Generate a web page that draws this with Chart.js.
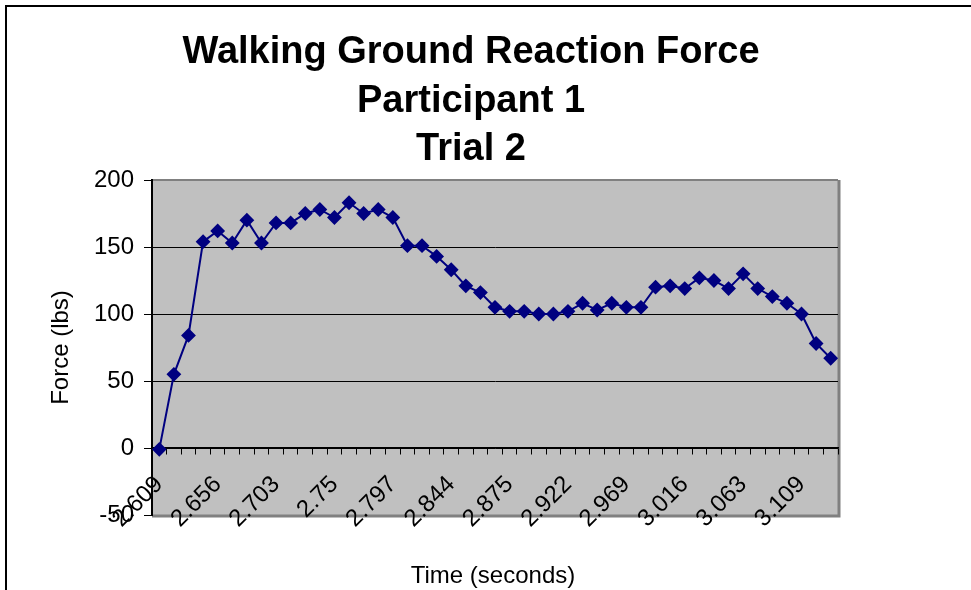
<!DOCTYPE html>
<html>
  <head>
    <title>Walking Ground Reaction Force</title>
    <meta charset="utf-8" />
    <script src="https://cdn.jsdelivr.net/npm/chart.js@4"></script>
    <style>
      html, body { margin: 0; padding: 0; background: #ffffff; }
      #wrap { width: 971px; height: 590px; }
    </style>
  </head>
  <body>
    <div id="wrap"><canvas id="grf" width="971" height="590"></canvas></div>
    <script>
      "use strict";

      const titleLines = ["Walking Ground Reaction Force", "Participant 1", "Trial 2"];
      const xTitle = "Time (seconds)";
      const yTitle = "Force (lbs)";

      // time labels shown on the axis, one every 4 samples
      const timeLabels = ["2.609", "2.656", "2.703", "2.75", "2.797", "2.844",
        "2.875", "2.922", "2.969", "3.016", "3.063", "3.109"];
      const labelEvery = 4;

      // force in lbs
      const force = [-1, 55, 84, 154, 162, 153, 170, 153, 168, 168, 175, 178,
        172, 183, 175, 178, 172, 151, 151, 143, 133, 121, 116, 105,
        102, 102, 100, 100, 102, 108, 103, 108, 105, 105, 120, 121,
        119, 127, 125, 119, 130, 119, 113, 108, 100, 78, 67];

      const yTicks = [-50, 0, 50, 100, 150, 200];

      const FONT = '"Liberation Sans", Arial, sans-serif';
      Chart.defaults.font.family = FONT;
      Chart.defaults.color = "#000";

      const categories = force.map((v, i) =>
        i % labelEvery === 0 ? timeLabels[i / labelEvery] || "" : "");

      // plot background, plot border and page frame
      const frame = {
        id: "frame",
        beforeDraw(chart) {
          const { ctx, chartArea: a } = chart;
          ctx.save();
          ctx.fillStyle = "#c0c0c0";
          ctx.fillRect(a.left, a.top, a.right - a.left, a.bottom - a.top);
          ctx.strokeStyle = "#808080";
          ctx.lineWidth = 2;
          ctx.beginPath();
          ctx.moveTo(a.left, a.top);
          ctx.lineTo(a.right, a.top);
          ctx.stroke();
          ctx.lineWidth = 3;
          ctx.beginPath();
          ctx.moveTo(a.right + 1, a.top);
          ctx.lineTo(a.right + 1, a.bottom + 1);
          ctx.lineTo(a.left, a.bottom + 1);
          ctx.stroke();
          ctx.strokeStyle = "#000";
          ctx.lineWidth = 2;
          ctx.beginPath();
          ctx.moveTo(6, 590);
          ctx.lineTo(6, 6);
          ctx.lineTo(971, 6);
          ctx.stroke();
          ctx.restore();
        },
        afterDraw(chart) {
          const { ctx } = chart;
          ctx.save();
          ctx.fillStyle = "#000";
          ctx.textAlign = "center";
          ctx.textBaseline = "middle";
          ctx.font = "bold 38px " + FONT;
          titleLines.forEach((t, i) => ctx.fillText(t, 471, 53 + i * 48.5));
          ctx.font = "24px " + FONT;
          ctx.fillText(xTitle, 493, 576);
          ctx.restore();
        }
      };

      new Chart(document.getElementById("grf"), {
        type: "line",
        data: {
          labels: categories,
          datasets: [{
            label: "Force",
            data: force,
            borderColor: "#000080",
            backgroundColor: "#000080",
            borderWidth: 2,
            tension: 0,
            pointStyle: "rectRot",
            pointRadius: 6,
            pointHoverRadius: 6
          }]
        },
        options: {
          responsive: false,
          animation: false,
          devicePixelRatio: 1,
          layout: { padding: { left: 0, right: 133, top: 180, bottom: 75 } },
          plugins: {
            legend: { display: false },
            title: { display: false },
            tooltip: { enabled: false }
          },
          scales: {
            x: {
              type: "category",
              position: { y: 0 },
              offset: true,
              grid: {
                offset: true,
                drawOnChartArea: false,
                drawTicks: true,
                tickLength: 6,
                tickColor: "#000"
              },
              border: { display: true, color: "#000", width: 1.5 },
              ticks: {
                autoSkip: false,
                minRotation: 45,
                maxRotation: 45,
                padding: 25,
                font: { size: 24, lineHeight: 0.2 }
              }
            },
            y: {
              min: -50,
              max: 200,
              afterFit(scale) { scale.width = 152; },
              afterBuildTicks(scale) { scale.ticks = yTicks.map(v => ({ value: v })); },
              grid: {
                color: c => (c.tick.value === 200 || c.tick.value === -50) ? "rgba(0,0,0,0)" : "#000",
                lineWidth: 1,
                tickColor: "#000",
                tickLength: 8
              },
              border: { display: true, color: "#000", width: 2 },
              ticks: { padding: 10, font: { size: 24 } },
              title: {
                display: true,
                text: yTitle,
                font: { size: 24 },
                padding: { top: 47 }
              }
            }
          }
        },
        plugins: [frame]
      });
    </script>
  </body>
</html>
